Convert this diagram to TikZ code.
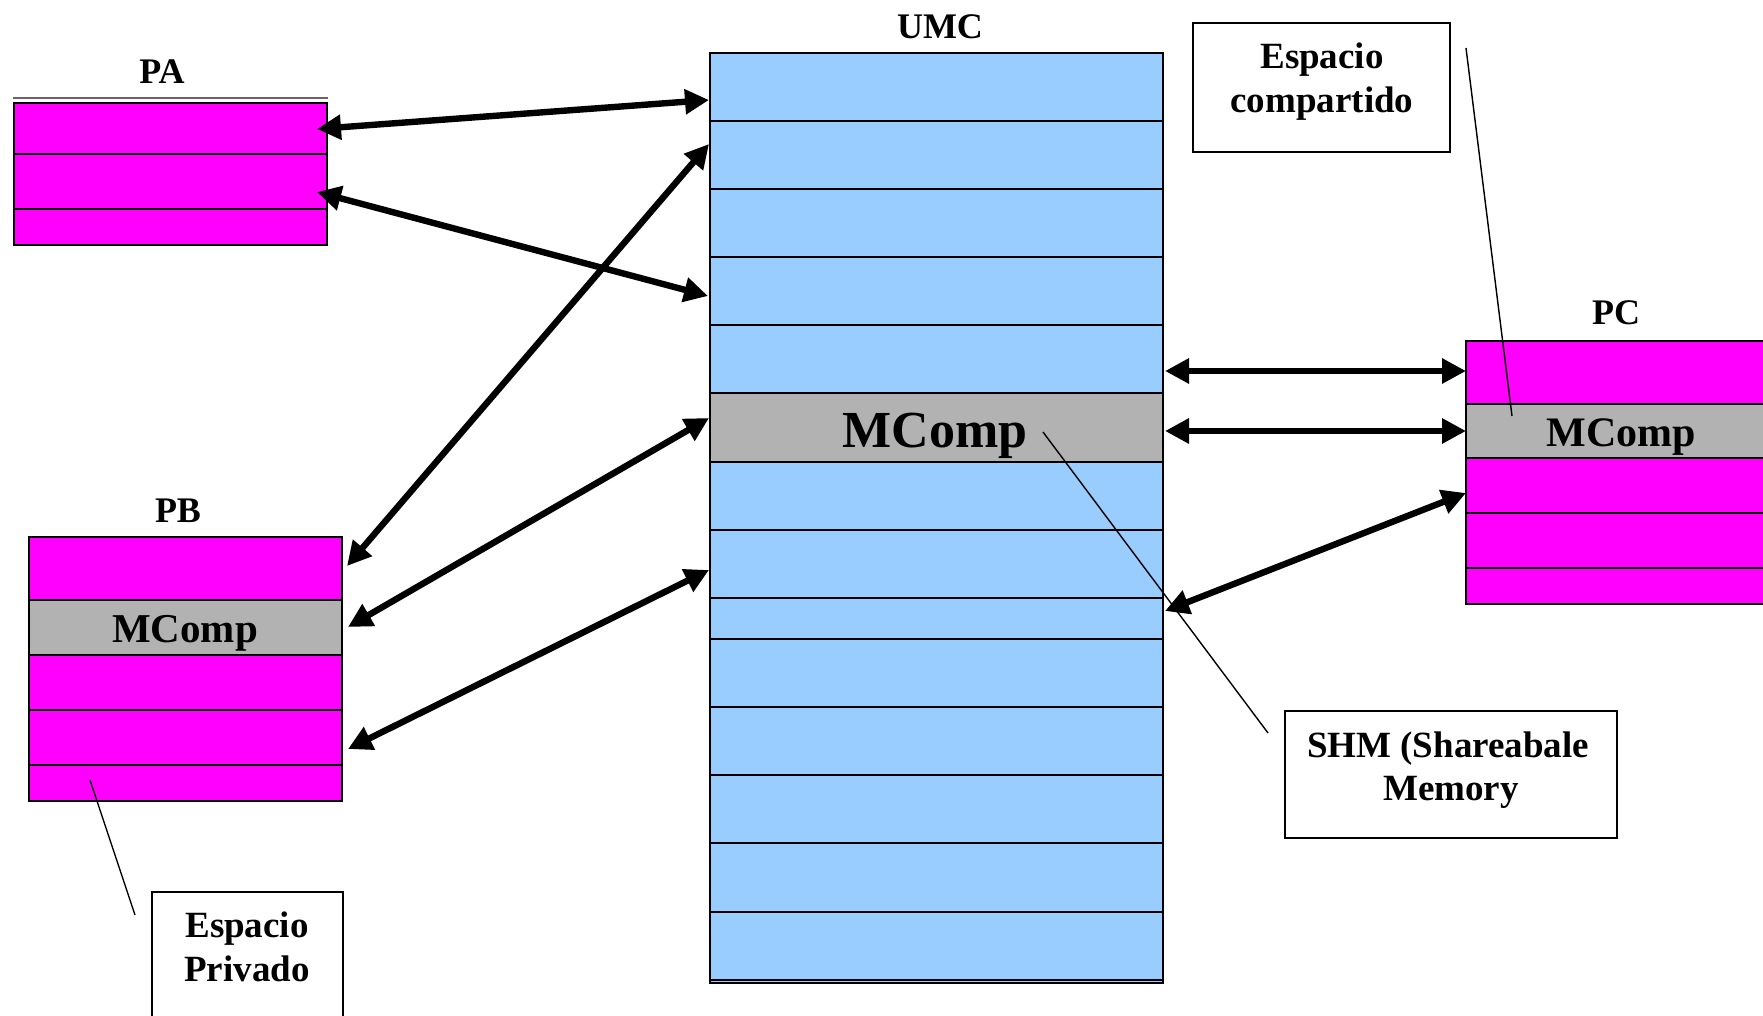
\documentclass[tikz,border=0pt]{standalone}
\usepackage{fontspec}
\setmainfont{Liberation Serif}
\usetikzlibrary{arrows.meta,fit}
\definecolor{mag}{RGB}{255,0,255}
\definecolor{umcblue}{RGB}{153,204,255}
\definecolor{mgrey}{RGB}{178,178,178}
\tikzset{
  box/.style={draw=black, line width=1pt, inner sep=0pt},
  rowline/.style={draw=black, line width=1pt},
  link/.style={line width=3.2pt, {Triangle[length=12pt,width=12pt]}-{Triangle[length=12pt,width=12pt]}},
  leader/.style={line width=0.7pt},
  lbl/.style={font=\fontsize{18}{22}\selectfont\bfseries, anchor=base, inner sep=0pt},
  notetxt/.style={font=\fontsize{18.5}{22}\selectfont\bfseries, anchor=base, inner sep=0pt},
  notebox/.style={draw=black, line width=0.9pt, inner sep=0pt},
}
\begin{document}
\begin{tikzpicture}[x=0.5pt,y=-0.5pt]
\useasboundingbox (0,0) rectangle (1763,1016);

% ---------- PA ----------
\node[box, fill=mag, fit={(14,103) (327,245)}] (PA) {};
\draw[rowline] (PA.west |- 0,154) -- (PA.east |- 0,154);
\draw[rowline] (PA.west |- 0,209) -- (PA.east |- 0,209);
\draw[line width=0.8pt, black!60] (PA.north west |- 0,98) -- (PA.north east |- 0,98);
\node[lbl] (PAl) at (162,84) {PA};

% ---------- PB ----------
\node[box, fill=mag, fit={(29,537) (342,801)}] (PB) {};
\node[box, fill=mgrey, fit={(29,600) (342,655)}] (PBm) {};
\node[anchor=base, inner sep=0pt, font=\fontsize{20.5}{24}\selectfont\bfseries] (PBmt) at (185,642) {MComp};
\draw[rowline] (PB.west |- 0,710) -- (PB.east |- 0,710);
\draw[rowline] (PB.west |- 0,765) -- (PB.east |- 0,765);
\node[lbl] (PBl) at (178,522) {PB};

% ---------- UMC ----------
\node[box, fill=umcblue, fit={(710,53) (1163,983)}] (UMC) {};
\foreach \yy in {121,189,257,325,530,598,639,707,775,843,912,980}{
  \draw[rowline] (UMC.west |- 0,\yy) -- (UMC.east |- 0,\yy);
}
\node[box, fill=mgrey, fit={(710,393) (1163,462)}] (UMCm) {};
\node[anchor=base, inner sep=0pt, font=\fontsize{26}{30}\selectfont\bfseries] (UMCmt) at (935,447) {MComp};
\node[lbl] (UMCl) at (940,39) {UMC};

% ---------- PC ----------
\node[box, fill=mag, fit={(1466,341) (1776,604)}] (PC) {};
\node[box, fill=mgrey, fit={(1466,404) (1776,458)}] (PCm) {};
\node[anchor=base, inner sep=0pt, font=\fontsize{21}{24}\selectfont\bfseries] (PCmt) at (1621,446) {MComp};
\draw[rowline] (PC.west |- 0,513) -- (PC.east |- 0,513);
\draw[rowline] (PC.west |- 0,568) -- (PC.east |- 0,568);
\node[lbl] (PCl) at (1616,325) {PC};

% ---------- note boxes ----------
\node[notebox, fit={(1193,23) (1450,152)}] (EC) {};
\node[notetxt] (EC1) at (1322,69) {Espacio};
\node[notetxt] (EC2) at (1322,113) {compartido};

\node[notebox, fit={(1285,711) (1617,838)}] (SHM) {};
\node[notetxt] (SHM1) at (1448,757) {SHM (Shareabale};
\node[notetxt] (SHM2) at (1451,800) {Memory};

\node[notebox, fit={(152,892) (343,1030)}] (EP) {};
\node[notetxt] (EP1) at (247,937) {Espacio};
\node[notetxt] (EP2) at (247,981) {Privado};

% ---------- arrow end points ----------
\coordinate (pa1) at (317,129);  \coordinate (u1) at (709,100);
\coordinate (pa2) at (317,192);  \coordinate (u2) at (708,296);
\coordinate (pb1) at (347,566);  \coordinate (u3) at (709,144);
\coordinate (pb2) at (348,627);  \coordinate (u4) at (709,418);
\coordinate (pb3) at (348,749);  \coordinate (u5) at (709,570);
\coordinate (ur1) at (1165,371); \coordinate (pc1) at (1466,371);
\coordinate (ur2) at (1165,431); \coordinate (pc2) at (1466,431);
\coordinate (ur3) at (1165,611); \coordinate (pc3) at (1466,493);

\draw[link] (pa1) -- (u1);
\draw[link] (pa2) -- (u2);
\draw[link] (pb1) -- (u3);
\draw[link] (pb2) -- (u4);
\draw[link] (pb3) -- (u5);
\draw[link] (ur1) -- (pc1);
\draw[link] (ur2) -- (pc2);
\draw[link] (ur3) -- (pc3);

% ---------- leader lines ----------
\coordinate (ecs) at (1466,48);  \coordinate (ece) at (1512,416);
\coordinate (shs) at (1043,432); \coordinate (she) at (1268,733);
\coordinate (eps) at (90,780);   \coordinate (epe) at (135,915);
\draw[leader] (ecs) -- (ece);
\draw[leader] (shs) -- (she);
\draw[leader] (eps) -- (epe);
\end{tikzpicture}
\end{document}
